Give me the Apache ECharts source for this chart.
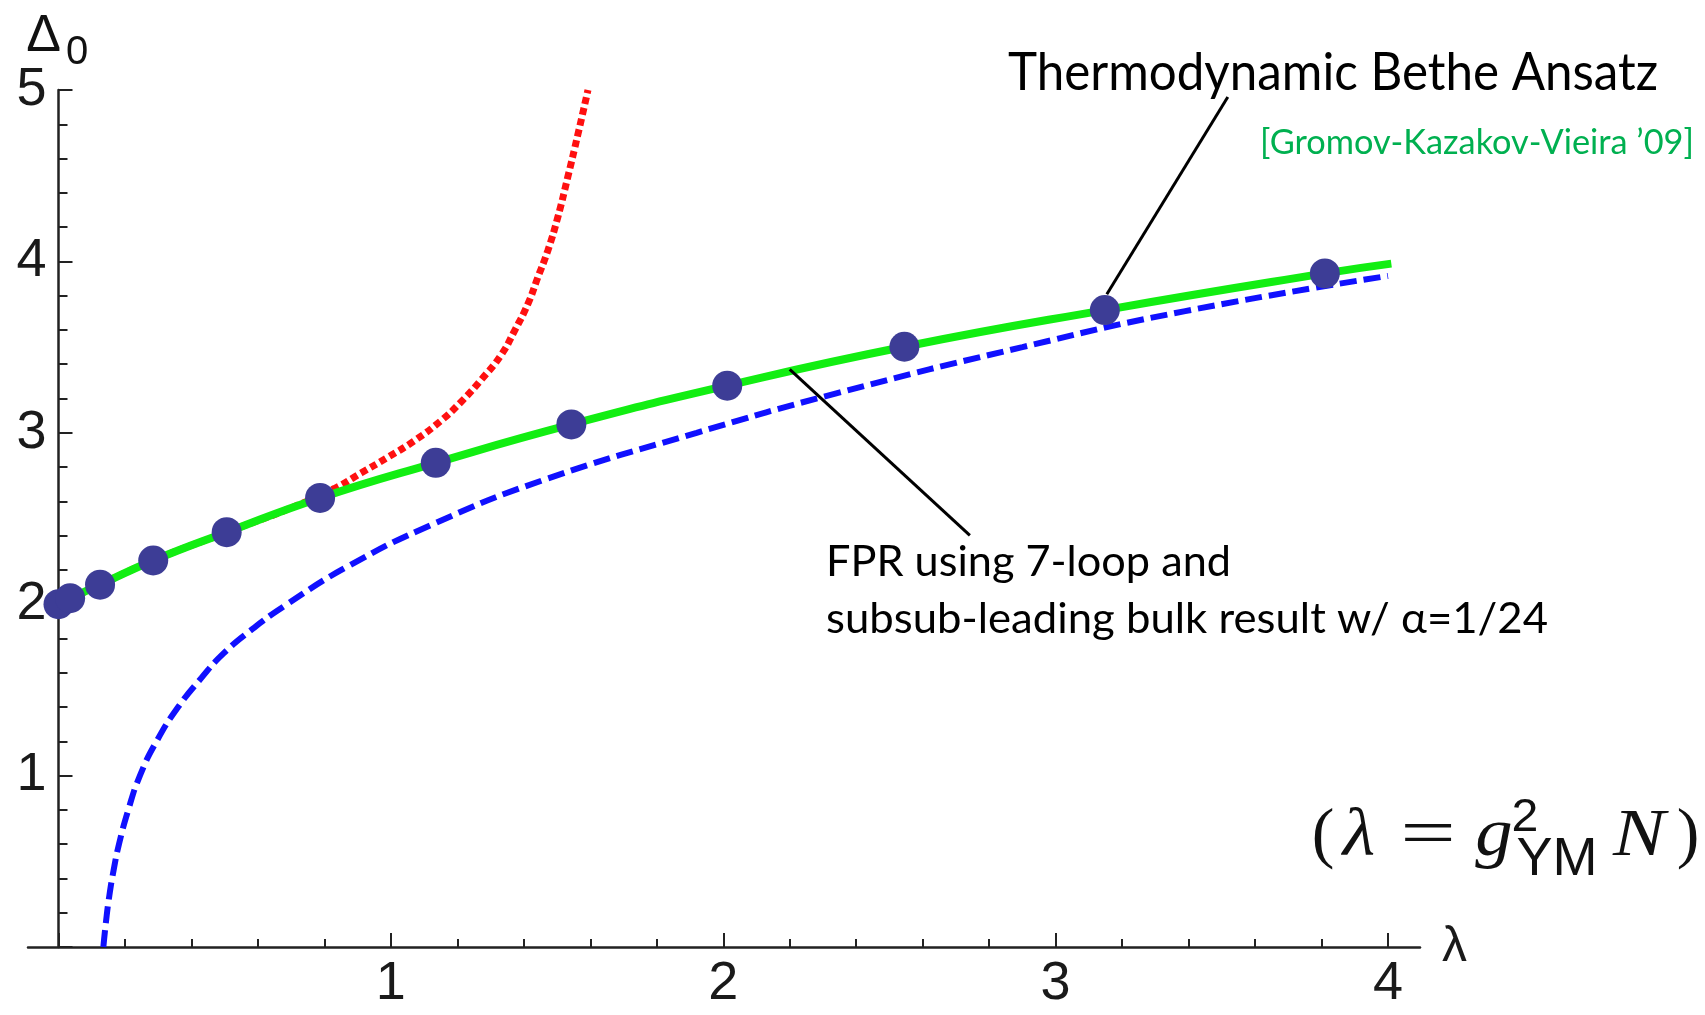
<!DOCTYPE html>
<html>
<head>
<meta charset="utf-8">
<script src="https://cdn.jsdelivr.net/npm/echarts@6/dist/echarts.min.js"></script>
<style>
  html, body { margin: 0; padding: 0; background: #ffffff; }
  #chart { width: 1705px; height: 1015px; }
</style>
</head>
<body>
<div id="chart"></div>
<script>
// Konishi Δ0 from the Thermodynamic Bethe Ansatz (points)
const tbaLambda = [0, 0.035, 0.125, 0.285, 0.506, 0.787, 1.135, 1.543, 2.012, 2.545, 3.148, 3.81];
const tbaDelta  = [2.0, 2.035, 2.114, 2.255, 2.42, 2.62, 2.825, 3.049, 3.275, 3.502, 3.716, 3.93];

// interpolating TBA curve (solid green)
const tbaCurveLambda = [0, 0.035, 0.125, 0.285, 0.506, 0.787, 1.135, 1.543, 2.012, 2.545, 3.148, 3.81, 4.01];
const tbaCurveDelta  = [2.0, 2.035, 2.114, 2.255, 2.42, 2.62, 2.825, 3.049, 3.275, 3.502, 3.716, 3.93, 3.987];

// weak-coupling series (red dotted)
const pertLambda = [0, 0.125, 0.285, 0.506, 0.70, 0.83, 0.91, 0.991, 1.071, 1.151, 1.211, 1.272, 1.332, 1.372, 1.412, 1.442, 1.472, 1.502, 1.532, 1.5626, 1.593];
const pertDelta  = [2.0, 2.114, 2.255, 2.42, 2.562, 2.675, 2.765, 2.857, 2.954, 3.071, 3.18, 3.31, 3.455, 3.595, 3.751, 3.906, 4.062, 4.256, 4.49, 4.74, 5.0];

// FPR with 7-loop and subsub-leading bulk result (blue dashed)
const fprLambda = [0.135, 0.143, 0.153, 0.166, 0.182, 0.21, 0.245, 0.295, 0.36, 0.43, 0.495, 0.58, 0.68, 0.87, 1.13, 1.46, 1.92, 2.34, 2.90, 3.39, 4.0];
const fprDelta  = [0, 0.15, 0.3, 0.45, 0.6, 0.8, 1.0, 1.2, 1.4, 1.57, 1.71, 1.85, 1.99, 2.22, 2.47, 2.725, 3.0, 3.23, 3.50, 3.71, 3.915];

// leader lines from the annotations to the curves
const tbaLeader = [[3.518, 4.959], [3.154, 3.808]];
const fprLeader = [[2.200, 3.370], [2.742, 2.401]];

// axis tick labels
const xTickLabels = ['', '1', '2', '3', '4'];
const yTickLabels = ['', '1', '2', '3', '4', '5'];

const zip = (xs, ys) => xs.map((x, i) => [x, ys[i]]);

const measureCtx = document.createElement('canvas').getContext('2d');
function fitText(text, font, left, midY, width, color) {
  measureCtx.font = font;
  const w = measureCtx.measureText(text).width;
  return {
    type: 'text', x: left, y: midY, scaleX: width / w, z: 20,
    style: { text: text, font: font, fill: color, align: 'left', verticalAlign: 'middle' }
  };
}
function glyph(text, font, cx, midY, sx) {
  return {
    type: 'text', x: cx, y: midY, scaleX: sx || 1, z: 20,
    style: { text: text, font: font, fill: '#111111', align: 'center', verticalAlign: 'middle' }
  };
}

const ink = '#1a1a1a';
const axisColor = '#222';
const tickFont = 'Liberation Sans';
const serif = '68px "Liberation Serif"';
const serifIt = 'italic 68px "Liberation Serif"';

const chart = echarts.init(document.getElementById('chart'), null, { renderer: 'canvas' });

const option = {
  animation: false,
  backgroundColor: '#ffffff',
  grid: [
    { left: 58.5, right: 317, top: 90, bottom: 68 },
    { left: 28, right: 285, top: 90, bottom: 68 }
  ],
  xAxis: [
    {
      type: 'value', gridIndex: 0, min: 0, max: 4, interval: 1,
      axisLine: { show: false },
      axisTick: { show: true, inside: true, length: 14, lineStyle: { color: axisColor, width: 2 } },
      minorTick: { show: true, splitNumber: 5, length: 8, lineStyle: { color: axisColor, width: 2 } },
      axisLabel: {
        formatter: v => xTickLabels[Math.round(v)] || '',
        fontSize: 54, fontFamily: tickFont, color: ink, margin: 10
      },
      splitLine: { show: false }
    },
    {
      type: 'value', gridIndex: 1, min: 0, max: 1,
      axisLine: { show: true, onZero: false, lineStyle: { color: axisColor, width: 2.5 } },
      axisTick: { show: false }, axisLabel: { show: false }, splitLine: { show: false },
      name: 'λ', nameLocation: 'end', nameGap: 22,
      nameTextStyle: { fontSize: 50, fontFamily: tickFont, color: ink, verticalAlign: 'middle' }
    }
  ],
  yAxis: [
    {
      type: 'value', gridIndex: 0, min: 0, max: 5, interval: 1,
      axisLine: { show: true, onZero: false, lineStyle: { color: axisColor, width: 2.5 } },
      axisTick: { show: true, inside: true, length: 14, lineStyle: { color: axisColor, width: 2 } },
      minorTick: { show: true, splitNumber: 5, length: 9, lineStyle: { color: axisColor, width: 2 } },
      axisLabel: {
        formatter: v => yTickLabels[Math.round(v)] || '',
        fontSize: 54, fontFamily: tickFont, color: ink, margin: 12
      },
      splitLine: { show: false }
    },
    { type: 'value', gridIndex: 1, min: 0, max: 1, show: false }
  ],
  series: [
    {
      name: 'FPR', type: 'line', xAxisIndex: 0, yAxisIndex: 0,
      data: zip(fprLambda, fprDelta), smooth: 0.5,
      showSymbol: false, z: 2,
      lineStyle: { color: '#1010ff', width: 6, type: [17, 7], cap: 'butt' }
    },
    {
      name: 'weak coupling', type: 'line', xAxisIndex: 0, yAxisIndex: 0,
      data: zip(pertLambda, pertDelta), smooth: 0.5,
      showSymbol: false, z: 3,
      lineStyle: { color: '#ff1010', width: 7, type: [7, 4], cap: 'butt' }
    },
    {
      name: 'TBA curve', type: 'line', xAxisIndex: 0, yAxisIndex: 0,
      data: zip(tbaCurveLambda, tbaCurveDelta), smooth: 0.5,
      showSymbol: false, z: 4, clip: false,
      lineStyle: { color: '#12ee12', width: 8 }
    },
    {
      name: 'TBA leader', type: 'line', xAxisIndex: 0, yAxisIndex: 0,
      data: tbaLeader, showSymbol: false, z: 5, silent: true,
      lineStyle: { color: '#000000', width: 3 }
    },
    {
      name: 'FPR leader', type: 'line', xAxisIndex: 0, yAxisIndex: 0,
      data: fprLeader, showSymbol: false, z: 5, silent: true,
      lineStyle: { color: '#000000', width: 3 }
    },
    {
      name: 'TBA', type: 'scatter', xAxisIndex: 0, yAxisIndex: 0,
      data: zip(tbaLambda, tbaDelta), symbol: 'circle', symbolSize: 30,
      clip: false, z: 6,
      itemStyle: { color: '#3d3d96', opacity: 1 }
    }
  ],
  graphic: [
    // y-axis title Δ0
    glyph('Δ', '52px "Liberation Sans"', 43.5, 37),
    glyph('0', '40px "Liberation Sans"', 77, 53),
    // annotations
    fitText('Thermodynamic Bethe Ansatz', '52px Lato', 1008, 73.5, 650, '#000000'),
    fitText('[Gromov-Kazakov-Vieira \u201909]', '34px Lato', 1260, 143, 434, '#00b050'),
    fitText('FPR using 7-loop and', '43px Lato', 826, 562, 405, '#000000'),
    fitText('subsub-leading bulk result w/ \u03b1=1/24', '43px Lato', 826, 619.5, 722, '#000000'),
    // (λ = g²_YM N)
    glyph('(', serif, 1323, 837),
    glyph('λ', serifIt, 1359, 837, 1.1),
    glyph('=', serif, 1428, 837, 1.45),
    glyph('g', serifIt, 1494, 837, 1.1),
    glyph('2', '46px "Liberation Sans"', 1525, 818, 1.05),
    glyph('YM', '54px "Liberation Sans"', 1557, 860),
    glyph('N', serifIt, 1639, 837, 1.15),
    glyph(')', serif, 1688, 837)
  ]
};

chart.setOption(option);
</script>
</body>
</html>
